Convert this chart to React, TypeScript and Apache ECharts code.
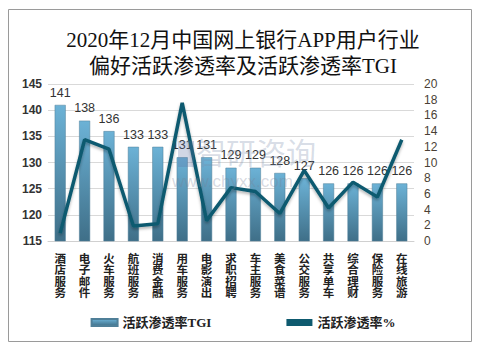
import React, { useEffect, useRef } from "react";
import * as echarts from "echarts";

const categories = ["酒店服务", "电子邮件", "火车服务", "航班服务", "消费金融", "用车服务", "电影演出", "求职招聘", "车主服务", "美食菜谱", "公交服务", "共享单车", "综合理财", "保险服务", "在线旅游"];
const tgiValues = [141, 138, 136, 133, 133, 131, 131, 129, 129, 128, 127, 126, 126, 126, 126];
const rateValues = [1.0, 12.9, 11.7, 1.9, 2.2, 17.6, 2.6, 6.8, 6.3, 3.5, 9.0, 4.2, 7.5, 5.6, 12.9];
const titleLines = ["2020年12月中国网上银行APP用户行业", "偏好活跃渗透率及活跃渗透率TGI"];
const seriesNames = ["活跃渗透率TGI", "活跃渗透率%"];

export default function App() {
  const ref = useRef<HTMLDivElement>(null);
  useEffect(() => {
    if (!ref.current) return;
    const chart = echarts.init(ref.current, null, { renderer: "svg" });
    const serif = "'Liberation Serif', 'Noto Sans CJK SC', serif";
    const sans = "'Liberation Sans', 'Noto Sans CJK SC', sans-serif";
    chart.setOption({
      animation: false,
      backgroundColor: "#ffffff",
      title: {
        text: titleLines.join("\n"),
        left: "center",
        top: 22,
        textStyle: { fontFamily: serif, fontSize: 21, fontWeight: "normal", color: "#111", lineHeight: 26 },
      },
      graphic: [
        { type: "rect", shape: { x: 8.5, y: 9.5, width: 463, height: 332 }, style: { fill: "none", stroke: "#9a9a9a", lineWidth: 1 }, z: -1 },
        { type: "text", x: 196, y: 138, style: { text: "智研咨询", fontSize: 30, fontFamily: sans, fill: "rgba(120,140,170,0.3)" }, z: 100 },
        { type: "text", x: 172, y: 173, style: { text: "www.chyxx.com", fontSize: 17, fontFamily: sans, fill: "rgba(120,130,150,0.3)" }, z: 100 },
        { type: "rect", shape: { x: 178, y: 141, width: 16, height: 26 }, style: { fill: "rgba(90,110,160,0.28)" }, z: 100 },
      ],
      legend: {
        bottom: 12,
        left: "center",
        itemGap: 75,
        itemWidth: 26,
        itemHeight: 7,
        textStyle: { fontFamily: serif, fontSize: 13, fontWeight: "bold", color: "#222" },
        data: [
          { name: seriesNames[0], icon: "rect" },
          { name: seriesNames[1], icon: "rect", itemStyle: { color: "#0e5a6f" } },
        ],
      },
      grid: { left: 48, right: 72, top: 84, bottom: 105 },
      xAxis: {
        type: "category",
        data: categories,
        axisTick: { show: false },
        axisLine: { lineStyle: { color: "#d0d0d0" } },
        axisLabel: {
          interval: 0,
          margin: 12,
          fontSize: 11.5,
          lineHeight: 11.5,
          fontWeight: "bold",
          color: "#222",
          fontFamily: sans,
          formatter: (v: string) => v.split("").join("\n"),
          verticalAlign: "top",
        },
      },
      yAxis: [
        {
          type: "value",
          min: 115,
          max: 145,
          interval: 5,
          axisLine: { show: false },
          axisTick: { show: false },
          splitLine: { lineStyle: { color: "#d9d9d9" } },
          axisLabel: { fontSize: 12, fontWeight: "bold", color: "#333", fontFamily: sans, margin: 6 },
        },
        {
          type: "value",
          min: 0,
          max: 20,
          interval: 2,
          axisLine: { show: false },
          axisTick: { show: false },
          splitLine: { show: false },
          axisLabel: { fontSize: 12, color: "#4a3f35", fontFamily: sans, margin: 10 },
        },
      ],
      series: [
        {
          name: seriesNames[0],
          type: "bar",
          data: tgiValues,
          barWidth: 11,
          itemStyle: {
            color: new echarts.graphic.LinearGradient(0, 0, 0, 1, [
              { offset: 0, color: "#6cb2d6" },
              { offset: 1, color: "#3f6f88" },
            ]),
            borderColor: "#4f7f98",
            borderWidth: 0.5,
          },
          label: {
            show: true,
            position: "top",
            distance: 6,
            fontSize: 12.5,
            fontFamily: sans,
            color: "#333",
          },
          z: 2,
        },
        {
          name: seriesNames[1],
          type: "line",
          yAxisIndex: 1,
          data: rateValues,
          symbol: "none",
          lineStyle: { color: "#0e5a6f", width: 3.5, shadowColor: "rgba(0,0,0,0.3)", shadowBlur: 3, shadowOffsetY: 2 },
          itemStyle: { color: "#0e5a6f" },
          z: 3,
        },
      ],
    });
    return () => chart.dispose();
  }, []);
  return <div ref={ref} style={{ position: "fixed", left: 0, top: 0, width: 486, height: 346 }} />;
}
